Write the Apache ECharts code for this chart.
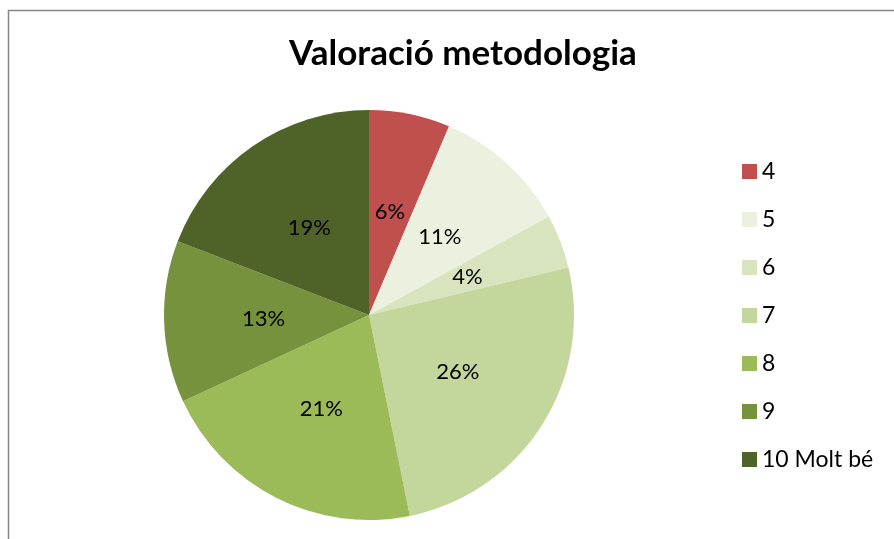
<!DOCTYPE html>
<html>
<head>
<meta charset="utf-8">
<script src="https://cdn.jsdelivr.net/npm/echarts@6/dist/echarts.min.js"></script>
<style>
  html, body { margin: 0; padding: 0; background: #fff; }
  #chart { width: 894px; height: 539px; }
</style>
</head>
<body>
<div id="chart"></div>
<script>
// respostes per valoració (llegides dels percentatges)
const categories = ["4", "5", "6", "7", "8", "9", "10 Molt bé"];
const values = [3, 5, 2, 12, 10, 6, 9];
const colors = ["#C0504D", "#EBF1DE", "#D7E4BD", "#C3D69B", "#9BBB59", "#76923C", "#4F6228"];

const chart = echarts.init(document.getElementById("chart"));

const option = {
  animation: false,
  title: {
    text: "Valoració metodologia",
    left: 458,
    top: 31,
    textAlign: "center",
    textStyle: {
      fontFamily: "Lato",
      fontWeight: "bold",
      fontSize: 35,
      color: "#000"
    }
  },
  legend: {
    orient: "vertical",
    left: 737,
    top: 155,
    itemWidth: 15,
    itemHeight: 15,
    itemGap: 25,
    icon: "rect",
    textStyle: {
      fontFamily: "Lato",
      fontSize: 23,
      lineHeight: 22,
      color: "#000"
    },
    data: categories
  },
  graphic: [
    {
      type: "rect",
      shape: { x: 8.5, y: 10.5, width: 1000, height: 1000 },
      style: { fill: "none", stroke: "#868686", lineWidth: 1.5 },
      silent: true
    }
  ],
  series: [
    {
      type: "pie",
      center: [369, 315],
      radius: 205,
      startAngle: 90,
      clockwise: true,
      label: {
        show: true,
        position: "inside",
        formatter: p => Math.round(p.percent) + "%",
        fontFamily: "Lato",
        fontSize: 22,
        color: "#000"
      },
      labelLine: { show: false },
      itemStyle: { borderWidth: 0 },
      data: categories.map((c, i) => ({
        name: c,
        value: values[i],
        itemStyle: { color: colors[i] }
      }))
    }
  ]
};

chart.setOption(option);
</script>
</body>
</html>
